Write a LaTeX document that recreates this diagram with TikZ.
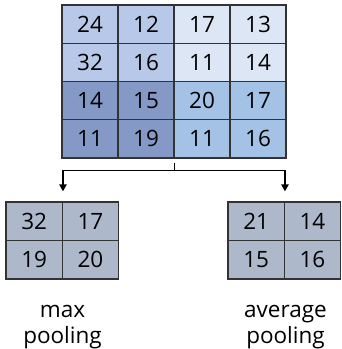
\documentclass[tikz,border=0pt]{standalone}
\usepackage{fontspec}
\setmainfont{Open Sans}
\usetikzlibrary{arrows.meta,calc}
\definecolor{cellA}{HTML}{B8C8E8}
\definecolor{cellB}{HTML}{DDE6F4}
\definecolor{cellC}{HTML}{8599C7}
\definecolor{cellD}{HTML}{A4C2E5}
\definecolor{cellP}{HTML}{ADB9CA}
\definecolor{gridline}{HTML}{333333}
\tikzset{
  bigcell/.style={draw=gridline, line width=1.4pt, minimum width=56pt,
    minimum height=38.25pt, inner sep=0pt, anchor=center,
    font=\fontsize{22.5}{24}\selectfont},
  poolcell/.style={bigcell, fill=cellP, minimum width=56.25pt, minimum height=38.5pt},
  link/.style={draw=black, line width=1.4pt},
  linkarrow/.style={link, -{Triangle[length=7pt,width=7.5pt]}, shorten >=10pt},
  caption/.style={anchor=base, inner sep=0pt, font=\fontsize{22.5}{24}\selectfont}
}
\begin{document}
\begin{tikzpicture}[x=1pt,y=-1pt]
\useasboundingbox (0,0) rectangle (341,349);
% 4x4 input feature map
\foreach \r/\vals/\fa/\fb in {1/{24,12,17,13}/cellA/cellB, 2/{32,16,11,14}/cellA/cellB,
                              3/{14,15,20,17}/cellC/cellD, 4/{11,19,11,16}/cellC/cellD}{
  \foreach \v [count=\c] in \vals {
    \ifnum\c<3 \def\fc{\fa}\else\def\fc{\fb}\fi
    \node[bigcell, fill=\fc] (in-\r-\c) at ({62+56*(\c-0.5)}, {5+38.25*(\r-0.5)}) {\v};
  }
}
% 2x2 max pooling result
\foreach \r/\vals in {1/{32,17}, 2/{19,20}}{
  \foreach \v [count=\c] in \vals {
    \node[poolcell] (mx-\r-\c) at ({6+56.25*(\c-0.5)}, {202+38.5*(\r-0.5)}) {\v};
  }
}
% 2x2 average pooling result
\foreach \r/\vals in {1/{21,14}, 2/{15,16}}{
  \foreach \v [count=\c] in \vals {
    \node[poolcell] (av-\r-\c) at ({228+56.25*(\c-0.5)}, {202+38.5*(\r-0.5)}) {\v};
  }
}
% branching connector
\coordinate (stem) at ($(in-4-2.south east)+(0,4)$);
\coordinate (fork) at ($(in-4-2.south east)+(0,11.5)$);
\coordinate (mxtop) at (mx-1-1.north east);
\coordinate (avtop) at (av-1-1.north east);
\draw[link] (stem) -- (fork);
\draw[linkarrow] (fork) -| (mxtop);
\draw[linkarrow] (fork) -| (avtop);
% captions
\node[caption] (mxcap1) at (62.5,317) {max};
\node[caption] (mxcap2) at (62.5,343) {pooling};
\node[caption] (avcap1) at (285.5,317) {average};
\node[caption] (avcap2) at (285.5,343) {pooling};
\end{tikzpicture}
\end{document}
